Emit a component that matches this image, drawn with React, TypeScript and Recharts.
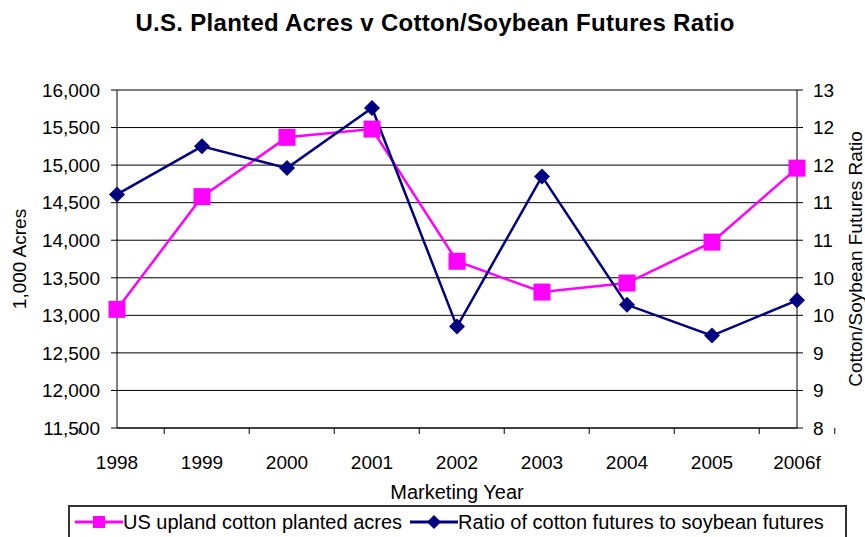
import { LineChart, Line, XAxis, YAxis, CartesianGrid, Legend } from 'recharts';

const years = ['1998', '1999', '2000', '2001', '2002', '2003', '2004', '2005', '2006f'];
const plantedAcres = [13080, 14580, 15370, 15480, 13720, 13310, 13430, 13975, 14960];
const futuresRatio = [11.11, 11.75, 11.46, 12.26, 9.35, 11.35, 9.64, 9.23, 9.7];
const acresTicks = [11500, 12000, 12500, 13000, 13500, 14000, 14500, 15000, 15500, 16000];
const ratioTicks = [8, 8.5, 9, 9.5, 10, 10.5, 11, 11.5, 12, 12.5];

const data = years.map((year, i) => ({ year, acres: plantedAcres[i], ratio: futuresRatio[i] }));

const W = 865;
const H = 537;
const LEFT_W = 117;
const RIGHT_W = 68;
const TOP = 90;
const X_AXIS_H = 109;
const HALF_BAND = (W - LEFT_W - RIGHT_W) / years.length / 2;
const FONT = 'Arial, "Liberation Sans", sans-serif';
const PINK = '#ff00ff';
const NAVY = '#000080';

function SquareDot(props: any) {
  const { cx, cy, index } = props;
  return <rect key={`sq-${index}`} x={cx - 8.5} y={cy - 8.5} width={17} height={17} fill={PINK} />;
}

function DiamondDot(props: any) {
  const { cx, cy, index } = props;
  const r = 8;
  return (
    <polygon
      key={`dm-${index}`}
      points={`${cx},${cy - r} ${cx + r},${cy} ${cx},${cy + r} ${cx - r},${cy}`}
      fill={NAVY}
    />
  );
}

function YearTick(props: any) {
  const { x, y, payload, index } = props;
  return (
    <g>
      <line x1={x - HALF_BAND} y1={y} x2={x - HALF_BAND} y2={y + 6} stroke="#000" />
      {index === years.length - 1 && <line x1={x + HALF_BAND} y1={y} x2={x + HALF_BAND} y2={y + 6} stroke="#000" />}
      <text x={x} y={y + 41} textAnchor="middle" fontSize={19} fontFamily={FONT} fill="#000">
        {payload.value}
      </text>
    </g>
  );
}

function AcresLabel({ viewBox }: any) {
  const cx = viewBox.x + 19;
  const cy = viewBox.y + viewBox.height / 2;
  return (
    <text x={cx} y={cy} transform={`rotate(-90, ${cx}, ${cy})`} textAnchor="middle" dominantBaseline="central" fontSize={19} fontFamily={FONT} fill="#000">
      1,000 Acres
    </text>
  );
}

function RatioLabel({ viewBox }: any) {
  const cx = viewBox.x + 58;
  const cy = viewBox.y + viewBox.height / 2;
  return (
    <text x={cx} y={cy} transform={`rotate(-90, ${cx}, ${cy})`} textAnchor="middle" dominantBaseline="central" fontSize={19} fontFamily={FONT} fill="#000">
      Cotton/Soybean Futures Ratio
    </text>
  );
}

function YearLabel({ viewBox }: any) {
  return (
    <text x={viewBox.x + viewBox.width / 2} y={viewBox.y + 71} textAnchor="middle" fontSize={20} fontFamily={FONT} fill="#000">
      Marketing Year
    </text>
  );
}

function LegendIcon({ color, shape }: { color: string; shape: 'square' | 'diamond' }) {
  return (
    <svg width={48} height={20} style={{ display: 'block' }}>
      <line x1={0} y1={10} x2={48} y2={10} stroke={color} strokeWidth={3} />
      {shape === 'square' ? (
        <rect x={18} y={4} width={12} height={12} fill={color} />
      ) : (
        <polygon points="24,3 31,10 24,17 17,10" fill={color} />
      )}
    </svg>
  );
}

function LegendBox() {
  return (
    <div
      style={{
        border: '2px solid #333',
        height: 40,
        boxSizing: 'border-box',
        background: '#fff',
        display: 'flex',
        alignItems: 'flex-start',
        paddingTop: 5,
        paddingLeft: 5,
        fontFamily: FONT,
        fontSize: 20,
        lineHeight: '20px',
        color: '#000',
        whiteSpace: 'nowrap',
      }}
    >
      <LegendIcon color={PINK} shape="square" />
      <span style={{ marginRight: 8 }}>US upland cotton planted acres</span>
      <LegendIcon color={NAVY} shape="diamond" />
      <span>Ratio of cotton futures to soybean futures</span>
    </div>
  );
}

export default function App() {
  return (
    <div style={{ position: 'absolute', left: 0, top: 0, width: W, height: H, background: '#fff', overflow: 'hidden' }}>
      <div
        style={{
          position: 'absolute',
          left: 0,
          top: 11,
          width: 870,
          textAlign: 'center',
          fontFamily: FONT,
          fontWeight: 'bold',
          fontSize: 24,
          lineHeight: '24px',
          letterSpacing: 0.3,
          color: '#000',
        }}
      >
        U.S. Planted Acres v Cotton/Soybean Futures Ratio
      </div>
      <LineChart width={W} height={H} data={data} margin={{ top: TOP, right: 0, left: 0, bottom: 0 }}>
        <CartesianGrid yAxisId="left" vertical={false} stroke="#000" strokeWidth={1} />
        <XAxis
          dataKey="year"
          height={X_AXIS_H}
          axisLine={{ stroke: '#000' }}
          tickLine={false}
          tickSize={0}
          tickMargin={0}
          interval={0}
          tick={(p: any) => <YearTick {...p} />}
          label={<YearLabel />}
        />
        <YAxis
          yAxisId="left"
          width={LEFT_W}
          domain={[11500, 16000]}
          ticks={acresTicks}
          tickFormatter={(v: number) => v.toLocaleString('en-US')}
          axisLine={{ stroke: '#000' }}
          tickLine={{ stroke: '#000' }}
          tickSize={6}
          tickMargin={11}
          tick={{ fontSize: 19, fontFamily: FONT, fill: '#000' }}
          label={<AcresLabel />}
        />
        <YAxis
          yAxisId="right"
          orientation="right"
          width={RIGHT_W}
          domain={[8, 12.5]}
          ticks={ratioTicks}
          tickFormatter={(v: number) => String(Math.round(v))}
          axisLine={{ stroke: '#000' }}
          tickLine={{ stroke: '#000' }}
          tickSize={6}
          tickMargin={10}
          tick={{ fontSize: 19, fontFamily: FONT, fill: '#000' }}
          label={<RatioLabel />}
        />
        <Legend
          layout="horizontal"
          verticalAlign="middle"
          align="center"
          content={() => <LegendBox />}
          wrapperStyle={{ left: 68, top: 505, width: 779, height: 40 }}
        />
        <Line
          yAxisId="left"
          dataKey="acres"
          name="US upland cotton planted acres"
          stroke={PINK}
          strokeWidth={2.5}
          dot={SquareDot}
          activeDot={false}
          isAnimationActive={false}
        />
        <Line
          yAxisId="right"
          dataKey="ratio"
          name="Ratio of cotton futures to soybean futures"
          stroke={NAVY}
          strokeWidth={2.5}
          dot={DiamondDot}
          activeDot={false}
          isAnimationActive={false}
        />
      </LineChart>
    </div>
  );
}
